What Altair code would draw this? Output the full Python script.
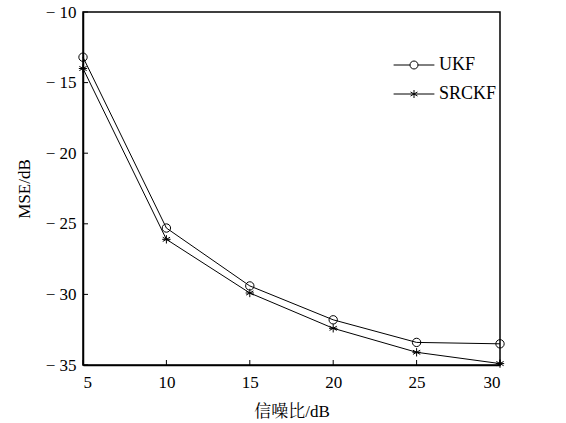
import altair as alt
import pandas as pd

snr = [5, 10, 15, 20, 25, 30]
ukf = [-13.2, -25.3, -29.4, -31.8, -33.4, -33.5]
srckf = [-14.0, -26.1, -29.9, -32.4, -34.1, -34.9]
series_names = ["UKF", "SRCKF"]
x_ticks = [5, 10, 15, 20, 25, 30]
y_ticks = [-35, -30, -25, -20, -15, -10]

rows = []
for name, vals in zip(series_names, [ukf, srckf]):
    for s, v in zip(snr, vals):
        rows.append({"snr": s, "mse": v, "series": name})
df = pd.DataFrame(rows)
xt_df = pd.DataFrame({"snr": x_ticks})
yt_df = pd.DataFrame({"mse": y_ticks})

W, H = 417, 353
TICK = 5
SERIF = "Liberation Serif, Noto Serif CJK SC, Noto Sans CJK SC, serif"

circle_path = "M1,0A1,1 0 1,1 -1,0A1,1 0 1,1 1,0Z"
star_path = "M-1,0L1,0M0,-1L0,1M-0.87,-0.5L0.87,0.5M-0.87,0.5L0.87,-0.5"
leg_circle = "M-5.1,0L-1,0M1,0L5.1,0M1,0A1,1 0 1,1 -1,0A1,1 0 1,1 1,0Z"
leg_star = "M-5.1,0L5.1,0M0,-1L0,1M-0.87,-0.5L0.87,0.5M-0.87,0.5L0.87,-0.5"

xs = alt.Scale(domain=[5, 30], nice=False, zero=False)
ys = alt.Scale(domain=[-35, -10], nice=False, zero=False)

base = alt.Chart(df)

lines = base.mark_line(color="black", strokeWidth=1, clip=False).encode(
    x=alt.X("snr:Q", scale=xs, axis=alt.Axis(
        orient="bottom", values=x_ticks, ticks=False, title="信噪比/dB",
        labelPadding=9, titlePadding=13, grid=False, format="d")),
    y=alt.Y("mse:Q", scale=ys, axis=alt.Axis(
        orient="left", values=y_ticks, ticks=False, title="MSE/dB",
        labelPadding=7, titlePadding=12, grid=False, format="d",
        labelExpr="replace(datum.label, '\u2212', '\u2212 ')")),
    detail="series:N",
)

x_tick_marks = alt.Chart(xt_df).mark_rule(color="black", strokeWidth=1).encode(
    x=alt.X("snr:Q", scale=xs, axis=None),
    y=alt.value(H),
    y2=alt.value(H - TICK),
)

y_tick_marks = alt.Chart(yt_df).mark_rule(color="black", strokeWidth=1).encode(
    y=alt.Y("mse:Q", scale=ys, axis=None),
    x=alt.value(0),
    x2=alt.value(TICK),
)

points = base.mark_point(filled=False, color="black", strokeWidth=1, size=70,
                         clip=False, opacity=1).encode(
    x=alt.X("snr:Q", scale=xs, axis=None),
    y=alt.Y("mse:Q", scale=ys, axis=None),
    shape=alt.Shape("series:N", scale=alt.Scale(domain=series_names,
                    range=[circle_path, star_path]), legend=None),
)

legend_layer = base.mark_point(filled=False, color="black", strokeWidth=1,
                               clip=False, opacity=1).encode(
    x=alt.X("snr:Q", scale=xs, axis=None),
    y=alt.Y("mse:Q", scale=ys, axis=None),
    size=alt.value(0),
    shape=alt.Shape("series:N", scale=alt.Scale(domain=series_names,
                    range=[leg_circle, leg_star]),
                    legend=alt.Legend(title=None, orient="none", legendX=322,
                                      legendY=44, symbolSize=64,
                                      labelOffset=16, rowPadding=11,
                                      symbolStrokeWidth=1,
                                      symbolStrokeColor="black",
                                      symbolFillColor="transparent",
                                      symbolOpacity=1,
                                      labelFont=SERIF, labelFontSize=18,
                                      labelColor="black", labelBaseline="middle",
                                      padding=0)),
)

chart = alt.layer(lines, x_tick_marks, y_tick_marks, points, legend_layer).resolve_axis(
    x="independent", y="independent"
).resolve_scale(shape="independent").properties(
    width=W, height=H,
    autosize=alt.AutoSizeParams(type="none"),
    padding={"left": 83, "top": 12, "right": 66, "bottom": 58},
    background="white",
).configure_view(
    stroke="black", strokeWidth=1.5
).configure_axis(
    domainColor="black", domainWidth=1.5, tickColor="black", tickWidth=1,
    labelFont=SERIF, labelFontSize=17, labelColor="black",
    titleFont=SERIF, titleFontSize=17, titleColor="black", titleFontWeight="normal",
)

chart.save("out.html", embed_options={"renderer": "svg", "actions": False})
